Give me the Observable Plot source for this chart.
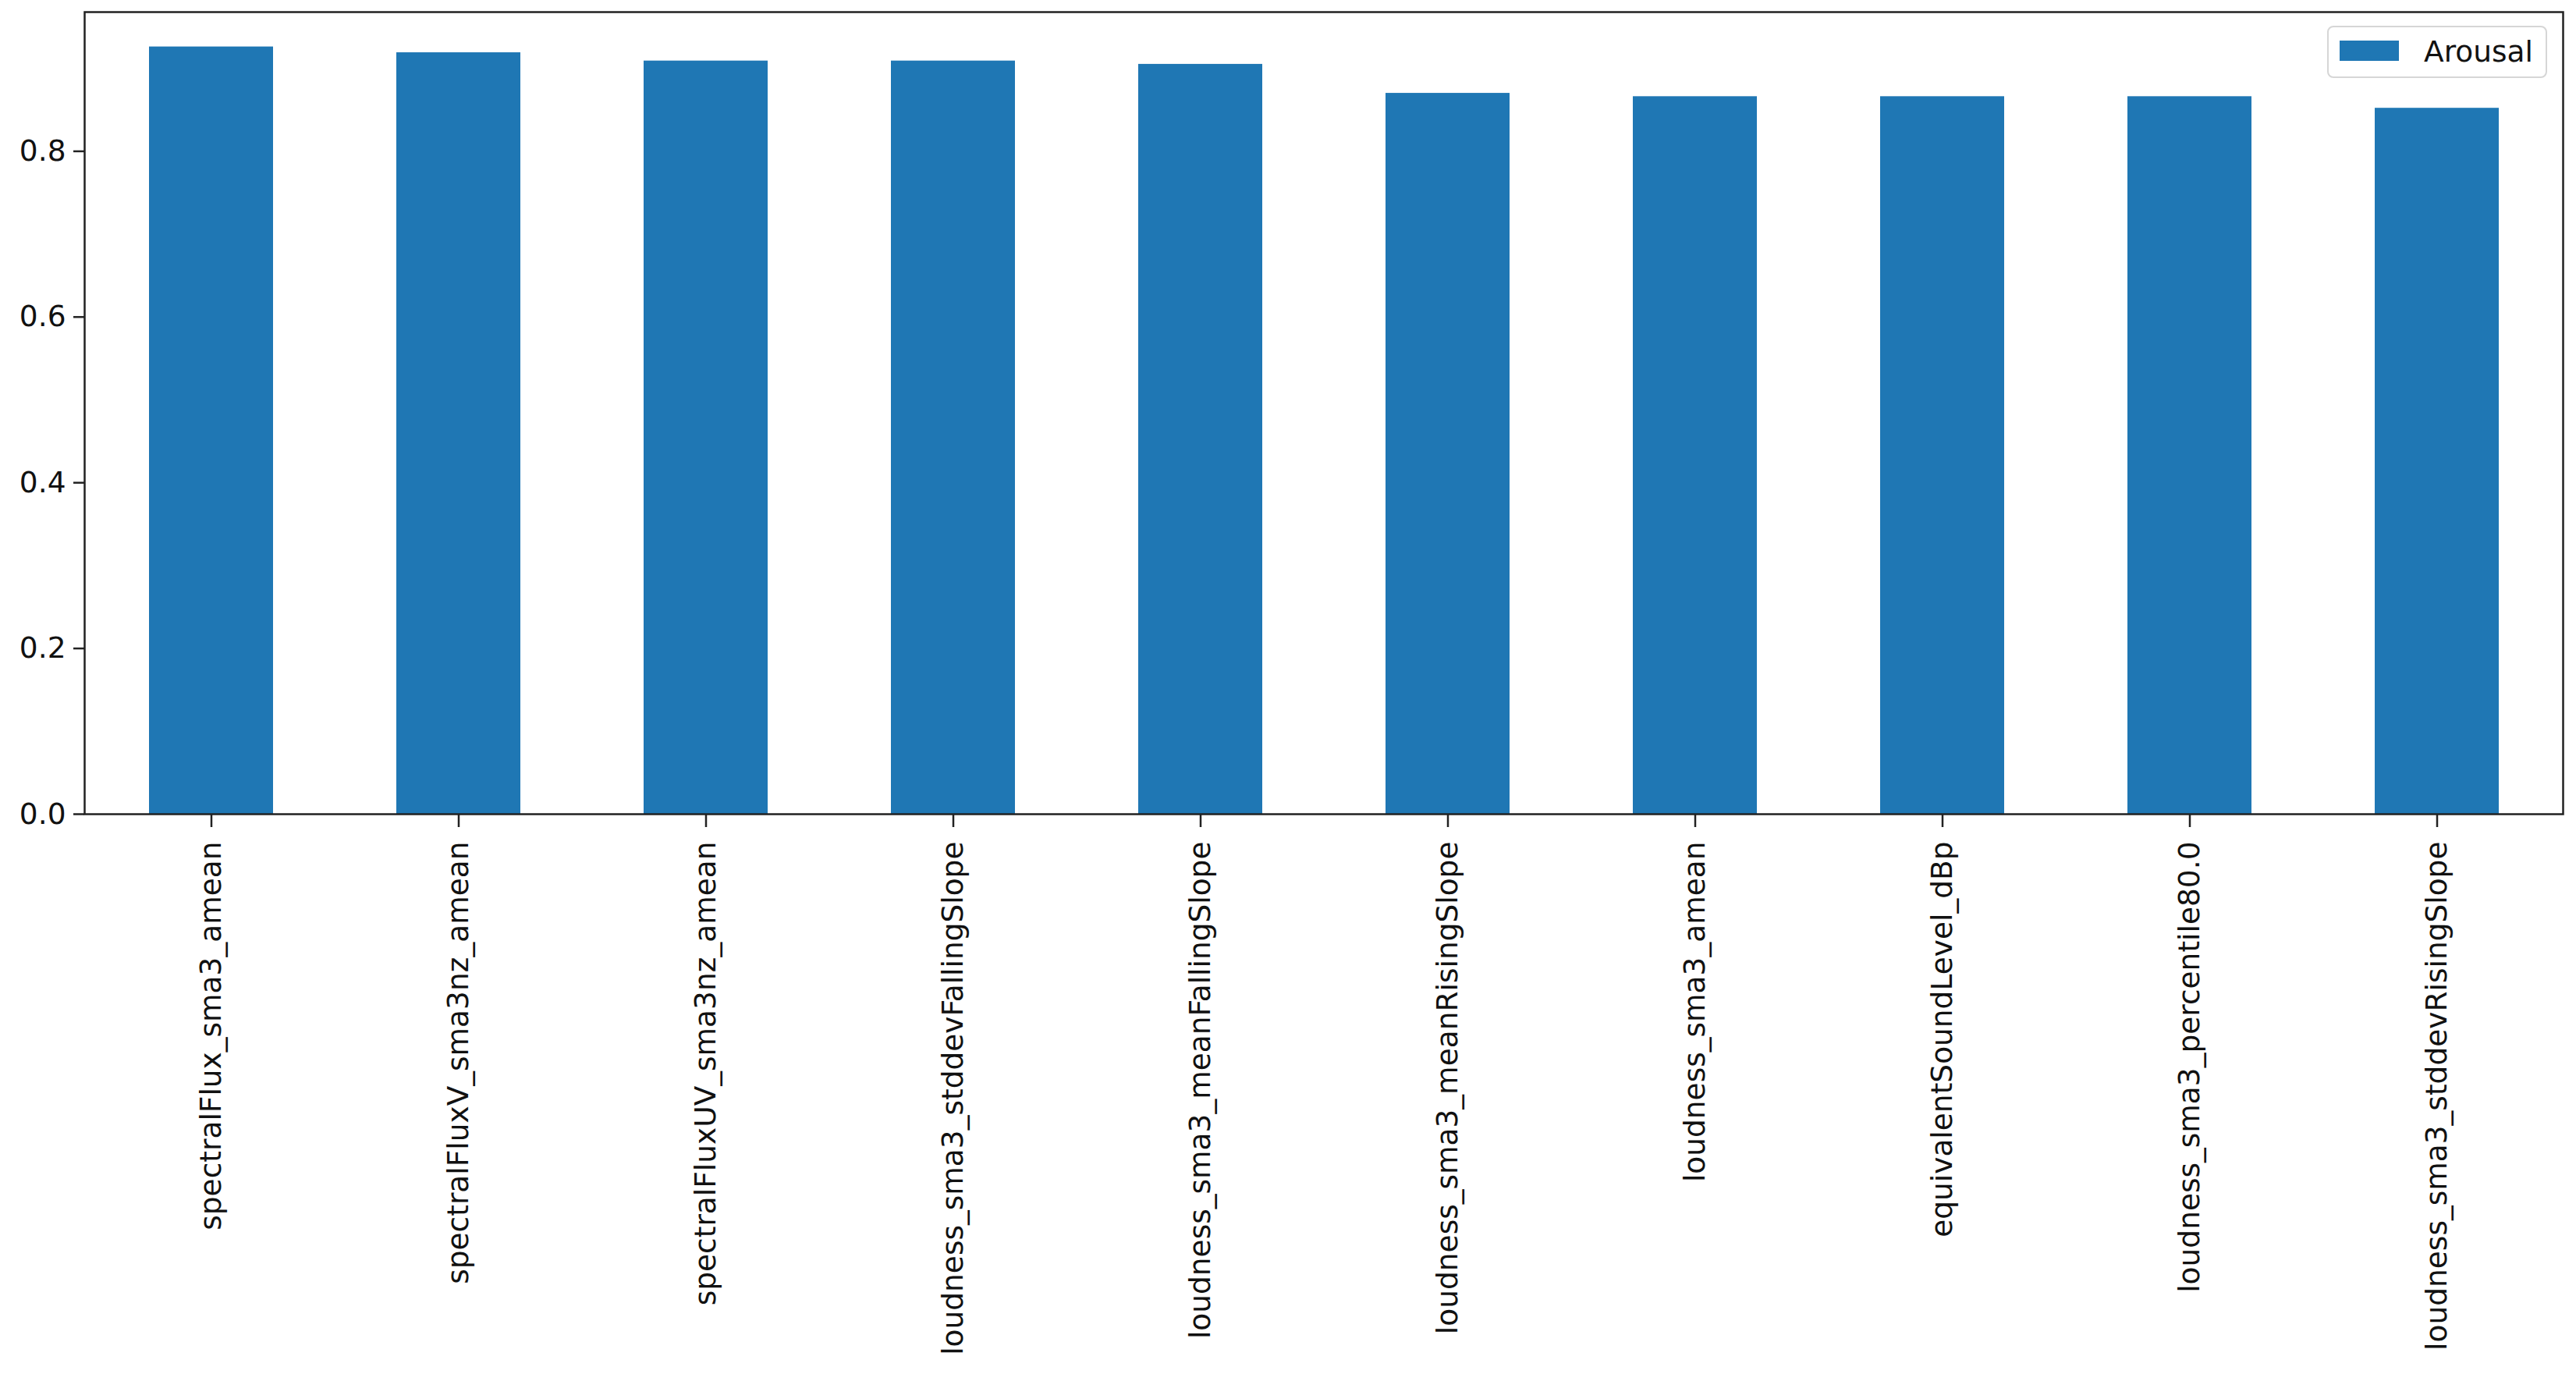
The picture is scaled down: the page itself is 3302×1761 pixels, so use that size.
<!DOCTYPE html>
<html>
<head>
<meta charset="utf-8">
<script src="https://cdn.jsdelivr.net/npm/d3@7"></script>
<script src="https://cdn.jsdelivr.net/npm/@observablehq/plot@0.6"></script>
<style>
  html, body { margin: 0; padding: 0; background: white; }
  #wrap { position: relative; width: 3302px; height: 1761px; overflow: hidden; }
  #legend {
    position: absolute; left: 2983px; top: 33px; width: 282px; height: 67px;
    box-sizing: border-box; border: 2.5px solid #d6d6d6; border-radius: 8px; background: rgba(255,255,255,0.8);
    font-family: "DejaVu Sans", sans-serif; font-size: 37.5px; color: #111;
  }
  #legend .sw { position: absolute; left: 14px; top: 17px; width: 76px; height: 26px; background: #1f77b4; }
  #legend .lb { position: absolute; left: 122px; top: 9px; line-height: 44px; }
</style>
</head>
<body>
<div id="wrap"><div id="legend"><div class="sw"></div><div class="lb">Arousal</div></div></div>
<script>
const categories = [
  "spectralFlux_sma3_amean",
  "spectralFluxV_sma3nz_amean",
  "spectralFluxUV_sma3nz_amean",
  "loudness_sma3_stddevFallingSlope",
  "loudness_sma3_meanFallingSlope",
  "loudness_sma3_meanRisingSlope",
  "loudness_sma3_amean",
  "equivalentSoundLevel_dBp",
  "loudness_sma3_percentile80.0",
  "loudness_sma3_stddevRisingSlope"
];
const arousal = [0.926, 0.919, 0.909, 0.909, 0.905, 0.870, 0.866, 0.866, 0.866, 0.852];
const yTicks = [0.0, 0.2, 0.4, 0.6, 0.8];
const seriesName = "Arousal";

const data = categories.map((c, i) => ({feature: c, value: arousal[i]}));

const chart = Plot.plot({
  width: 3302,
  height: 1761,
  marginLeft: 108,
  marginRight: 17,
  marginTop: 15,
  marginBottom: 718,
  style: {fontFamily: "DejaVu Sans, sans-serif", fontSize: "37.5px", background: "white", color: "#111"},
  x: {domain: categories, paddingInner: 0.5, paddingOuter: 0.25, label: null},
  y: {domain: [0, 0.968], label: null},
  marks: [
    Plot.barY(data, {x: "feature", y: "value", fill: "#1f77b4", title: d => `${seriesName}: ${d.value}`}),
    Plot.axisX({tickRotate: -90, tickSize: 17, tickPadding: 18, label: null, stroke: "#222", strokeWidth: 2.5, fill: "#111"}),
    Plot.axisY({ticks: yTicks, tickFormat: d3.format(".1f"), tickSize: 14, tickPadding: 10, label: null, stroke: "#222", strokeWidth: 2.5, fill: "#111"}),
    Plot.frame({stroke: "#222", strokeWidth: 2.5})
  ]
});
document.getElementById("wrap").prepend(chart);
</script>
</body>
</html>
